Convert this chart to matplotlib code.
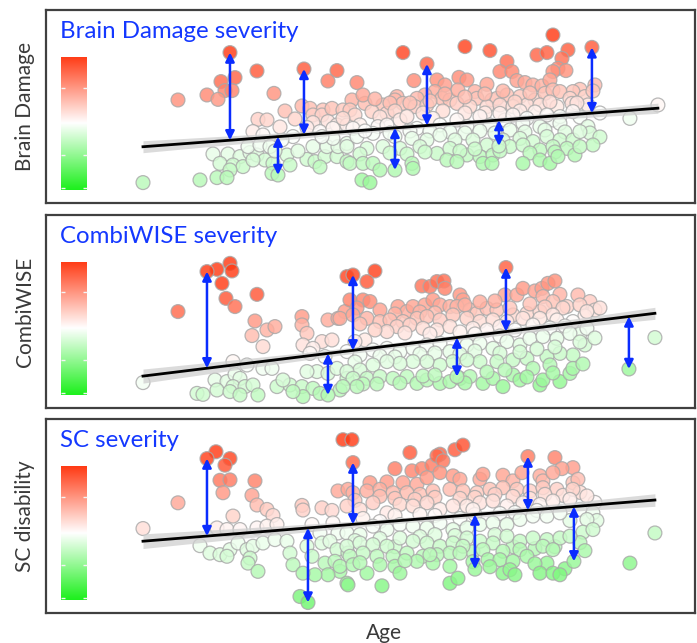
import numpy as np
import matplotlib.pyplot as plt
from matplotlib.colors import LinearSegmentedColormap, TwoSlopeNorm

plt.rcParams['font.family'] = ['Lato', 'DejaVu Sans']

# (age, score) per patient; *_marked are the patients picked out with arrows
brain_points = [
    (29.2, 6.60), (37.2, 6.62), (36.3, 6.10), (25.6, 6.07), (27.0, 6.27), (26.0, 5.62), (26.7, 5.62),
    (24.2, 5.40), (25.3, 5.18), (21.3, 5.15), (30.9, 5.48), (33.7, 4.85), (34.5, 4.73), (35.8, 4.65),
    (34.8, 4.40), (35.7, 4.40), (36.7, 4.73), (37.8, 4.65), (29.3, 4.18), (30.2, 4.15), (34.8, 4.02),
    (36.3, 4.07), (37.2, 3.90), (38.2, 3.90), (34.2, 3.77), (35.5, 3.57), (36.8, 3.73), (28.8, 3.57),
    (29.8, 3.40), (32.8, 3.32), (31.7, 3.15), (24.8, 2.45), (26.3, 2.45), (27.5, 2.32), (28.5, 2.52),
    (29.2, 2.40), (30.0, 2.15), (32.2, 2.40), (34.2, 2.18), (35.0, 2.07), (36.0, 2.32), (37.2, 2.32),
    (38.2, 2.07), (25.5, 1.98), (26.8, 1.90), (27.8, 1.82), (26.5, 1.65), (30.8, 1.98), (30.7, 1.48),
    (23.5, 1.15), (25.2, 1.27), (26.2, 1.27), (17.8, 1.02), (34.8, 2.82), (36.2, 2.82), (37.3, 2.82),
    (36.8, 3.23), (38.2, 2.98), (35.7, 3.32), (28.3, 2.82), (29.5, 2.90), (30.5, 2.82), (28.8, 2.15),
    (32.0, 4.60), (33.0, 4.20), (31.5, 3.80), (33.3, 2.60), (32.5, 1.90), (35.5, 1.80), (31.0, 2.60),
    (58.8, 8.40), (50.0, 7.82), (52.5, 7.62), (43.8, 7.52), (57.2, 7.40), (58.2, 7.52), (60.3, 7.65),
    (59.7, 7.23), (54.2, 7.07), (53.5, 6.57), (54.7, 6.57), (59.3, 6.73), (60.1, 6.62), (58.8, 6.57),
    (39.2, 6.02), (44.9, 6.12), (47.2, 6.15), (48.0, 5.90), (49.4, 6.28), (50.2, 6.15), (52.2, 5.93),
    (55.2, 6.12), (56.0, 6.02), (56.8, 5.90), (57.7, 5.85), (58.5, 6.15), (63.0, 5.90), (61.5, 5.68),
    (60.8, 5.57), (47.0, 5.57), (46.0, 5.40), (43.2, 5.32), (43.0, 5.15), (43.8, 4.98), (45.2, 5.23),
    (47.7, 5.23), (48.5, 5.15), (49.3, 5.65), (51.0, 5.57), (51.2, 5.23), (52.7, 5.15), (53.2, 5.23),
    (54.2, 5.40), (55.5, 5.32), (57.0, 5.15), (58.0, 5.48), (58.8, 5.65), (59.5, 5.57), (60.5, 5.23),
    (62.0, 5.32), (38.7, 5.15), (40.0, 4.98), (41.8, 4.90), (40.7, 4.57), (42.2, 4.48), (38.5, 4.65),
    (45.0, 4.82), (46.2, 4.90), (49.2, 4.98), (50.5, 4.82), (52.2, 4.82), (53.5, 4.90), (54.8, 4.82),
    (56.2, 4.90), (57.5, 4.90), (59.2, 4.82), (60.7, 4.98), (62.3, 4.90), (69.3, 4.90),
    (39.8, 5.40), (41.0, 5.20), (42.5, 5.00), (44.5, 5.00), (46.5, 5.10), (48.0, 5.45), (50.0, 5.30),
    (52.0, 5.45), (53.8, 5.60), (55.0, 5.05), (56.5, 5.50), (58.5, 5.05), (61.2, 5.00), (62.8, 5.60),
    (39.0, 4.40), (41.5, 4.30), (43.0, 4.60), (45.8, 4.50), (47.8, 4.60), (50.0, 4.50), (52.0, 4.50),
    (54.0, 4.15), (55.5, 4.60), (57.0, 4.55), (58.8, 4.15), (61.5, 4.30), (63.5, 4.50),
    (37.8, 4.23), (39.5, 3.90), (41.3, 3.82), (43.5, 4.15), (44.2, 4.32), (46.8, 4.23), (49.2, 4.15),
    (51.5, 4.32), (53.5, 4.48), (54.8, 4.40), (56.2, 4.23), (58.2, 4.40), (59.5, 4.32), (60.8, 4.57),
    (66.5, 4.23), (38.8, 3.73), (42.2, 3.90), (45.2, 3.73), (47.5, 3.90), (50.2, 3.82), (52.5, 3.90),
    (55.8, 3.98), (57.5, 3.82), (59.5, 3.98), (62.3, 3.82), (39.2, 3.32), (40.8, 3.48), (43.0, 3.32),
    (40.0, 3.60), (42.5, 3.50), (44.5, 3.60), (46.5, 3.60), (48.5, 3.55), (50.0, 3.50), (51.5, 3.60),
    (53.0, 3.50), (54.5, 3.65), (56.0, 3.55), (58.0, 3.65), (60.0, 3.55), (62.5, 3.50), (63.5, 3.30),
    (44.7, 3.23), (46.2, 3.15), (47.5, 3.40), (49.0, 3.15), (50.8, 3.15), (52.2, 2.90), (53.8, 3.15),
    (55.5, 3.23), (56.8, 3.07), (58.2, 3.32), (59.5, 3.15), (60.8, 3.15), (61.5, 3.57), (38.2, 2.82),
    (40.2, 2.73), (41.8, 2.82), (43.5, 2.73), (45.5, 2.82), (47.2, 2.48), (48.5, 2.73), (50.2, 2.40),
    (51.5, 2.32), (52.8, 2.40), (54.5, 2.82), (55.8, 2.90), (57.5, 2.65), (58.8, 2.82), (60.2, 2.73),
    (39.5, 2.45), (42.5, 2.50), (44.2, 2.45), (46.0, 2.55), (49.5, 2.60), (51.0, 2.70), (53.5, 2.60),
    (56.5, 2.50), (59.0, 2.55), (61.0, 2.40), (62.8, 2.90),
    (61.5, 2.82), (38.5, 1.98), (39.8, 1.98), (40.8, 1.98), (41.5, 1.65), (44.7, 1.98), (44.8, 1.73),
    (48.2, 2.15), (49.2, 2.07), (51.8, 1.98), (52.7, 1.98), (55.8, 1.98), (57.5, 2.15), (58.5, 1.98),
    (59.3, 2.32), (39.7, 1.15), (40.5, 1.02),
]
brain_marked = [(26.5, 7.52), (31.3, 1.40), (33.9, 6.70), (43.0, 1.65), (46.2, 6.95), (53.4, 2.85), (62.7, 7.78)]
brain_trend = (2.147, 0.0374)  # intercept, slope per year

combi_points = [
    (25.2, 6.93), (26.5, 7.23), (26.7, 6.85), (25.7, 6.23), (26.1, 5.48), (27.0, 5.07), (21.3, 4.82),
    (29.2, 5.68), (29.0, 4.35), (30.2, 3.90), (31.0, 4.07), (28.7, 3.62), (29.8, 3.07), (33.7, 4.57),
    (33.7, 4.15), (34.2, 3.73), (36.3, 4.40), (37.3, 4.48), (38.0, 4.82), (38.2, 6.57), (35.7, 3.32),
    (36.7, 3.40), (33.8, 3.15), (34.8, 2.98), (17.8, 1.27), (26.8, 2.32), (28.2, 2.15), (29.8, 1.98),
    (30.7, 1.98), (34.5, 2.73), (36.0, 2.57), (23.2, 0.73), (23.8, 0.68), (25.0, 1.40), (26.2, 1.32),
    (27.0, 1.68), (27.5, 1.48), (26.8, 1.07), (28.0, 1.07), (28.8, 1.15), (25.2, 0.90), (26.5, 0.82),
    (27.5, 0.65), (29.3, 0.65), (31.2, 1.07), (32.5, 1.15), (33.7, 1.07), (34.8, 0.98), (33.8, 0.57),
    (37.5, 0.90), (38.2, 1.48), (35.2, 1.82), (36.3, 1.73), (37.2, 1.98), (31.8, 1.40), (32.8, 0.82),
    (35.5, 0.73), (34.2, 1.82),
    (41.0, 6.85), (40.2, 6.32), (45.7, 6.10), (46.5, 6.07), (47.2, 6.32), (47.9, 6.35), (48.0, 5.98),
    (38.5, 5.40), (39.8, 5.40), (40.5, 5.32), (43.3, 5.07), (44.2, 4.82), (44.8, 5.07), (46.0, 5.15),
    (46.8, 5.40), (47.5, 5.15), (48.5, 5.07), (49.5, 5.65), (49.8, 5.40), (49.2, 5.07), (50.5, 4.90),
    (51.2, 4.73), (52.2, 4.98), (53.2, 4.90), (54.0, 5.65), (55.2, 5.65), (55.8, 5.98), (57.0, 5.85),
    (57.7, 5.98), (58.3, 6.23), (59.0, 6.35), (59.5, 5.68), (57.8, 5.57), (58.8, 5.32), (60.2, 5.07),
    (61.3, 5.65), (62.5, 5.32), (63.0, 4.90), (61.5, 5.15), (54.8, 4.65), (56.2, 4.73), (57.5, 4.82),
    (39.2, 5.00), (41.5, 4.90), (43.0, 4.70), (45.5, 4.80), (47.0, 4.75), (50.0, 5.15), (51.5, 5.30),
    (53.0, 5.35), (54.5, 5.00), (56.5, 5.20), (58.0, 5.05), (59.8, 5.00), (62.0, 4.60), (63.5, 5.00),
    (58.8, 4.65), (37.5, 4.48), (38.8, 4.65), (40.2, 4.48), (41.5, 4.32), (42.5, 4.40), (43.8, 4.32),
    (45.2, 4.48), (46.2, 4.57), (47.5, 4.40), (48.8, 4.65), (50.2, 4.48), (51.5, 4.32), (52.8, 4.40),
    (54.2, 4.32), (55.8, 4.48), (57.5, 4.48), (59.2, 4.40), (60.8, 4.32), (62.2, 4.82), (43.2, 4.07),
    (44.5, 4.15), (45.8, 3.98), (47.2, 3.90), (48.5, 4.07), (40.0, 3.40), (39.0, 3.32), (42.2, 3.82),
    (50.8, 3.98), (52.2, 3.90), (53.5, 4.07),
    (39.5, 4.20), (41.0, 3.90), (44.0, 3.75), (46.5, 3.70), (49.5, 3.80), (51.0, 3.70), (53.5, 3.60),
    (55.0, 3.90), (56.8, 4.15), (58.5, 4.00), (60.0, 4.10), (61.5, 3.70),
    (38.2, 2.82), (39.5, 2.65), (40.8, 2.90), (42.2, 2.98),
    (43.5, 2.82), (44.8, 2.98), (46.2, 3.15), (47.5, 3.23), (48.5, 2.82), (50.2, 3.15), (51.5, 3.23),
    (52.8, 2.98), (54.2, 3.32), (55.5, 3.15), (56.5, 3.48), (57.8, 3.57), (59.2, 3.48), (60.5, 3.73),
    (62.2, 3.98), (62.0, 3.15), (60.8, 2.65), (59.5, 2.73), (58.2, 2.57), (56.2, 2.48), (54.8, 2.40),
    (39.0, 2.30), (41.5, 2.60), (43.0, 2.55), (45.5, 2.70), (47.0, 2.75), (49.5, 2.70), (51.0, 2.85),
    (53.5, 2.75), (55.5, 2.80), (57.2, 2.95), (59.0, 3.05), (61.5, 3.30), (63.0, 3.50),
    (53.2, 2.32), (51.5, 2.32), (50.2, 2.40), (48.8, 2.32), (47.5, 2.15), (46.2, 2.32), (44.8, 2.32),
    (43.5, 2.23), (42.2, 2.32), (40.8, 2.15), (39.5, 1.90), (38.2, 1.82), (38.8, 1.48), (40.2, 1.48),
    (41.5, 1.57), (42.8, 1.48), (44.2, 1.57), (45.2, 1.23), (46.2, 1.40), (47.5, 1.23), (48.5, 1.32),
    (49.5, 1.48), (50.5, 1.57), (51.8, 1.23), (52.8, 1.48), (53.8, 1.07), (54.8, 1.65), (55.5, 1.40),
    (57.5, 1.15), (57.8, 1.40), (59.5, 1.32), (60.5, 1.73), (60.8, 1.98), (56.8, 1.98), (58.5, 2.15),
    (39.8, 1.20), (41.2, 1.20), (43.5, 1.25), (45.8, 1.60), (47.0, 1.65), (50.0, 1.25), (52.2, 1.80),
    (54.0, 1.90), (56.2, 1.55), (58.8, 1.75), (61.8, 2.20),
    (69.0, 3.52), (39.2, 1.07), (37.8, 1.07),
]
combi_marked = [(24.2, 6.82), (36.3, 0.65), (38.8, 6.65), (49.2, 1.57), (54.1, 7.02), (66.4, 1.95)]
combi_trend = (0.503, 0.0613)

sc_points = [
    (25.1, 8.02), (26.5, 7.68), (26.0, 7.35), (25.5, 6.60), (26.5, 6.62), (25.8, 5.98), (29.0, 6.57),
    (28.7, 5.85), (29.2, 5.37), (30.2, 5.15), (21.3, 5.48), (30.8, 4.85), (26.8, 4.82), (33.7, 5.35),
    (33.8, 5.12), (35.7, 5.23), (36.7, 5.10), (37.3, 6.07), (38.3, 6.15), (17.8, 4.20), (25.2, 4.23),
    (26.2, 4.15), (27.5, 4.15), (29.2, 4.23), (30.2, 4.32), (31.2, 4.40), (34.7, 4.40), (36.8, 4.48),
    (37.3, 3.98), (35.5, 3.98), (23.5, 3.35), (24.5, 2.98), (25.5, 2.90), (26.5, 3.15), (26.2, 2.82),
    (27.3, 3.48), (28.2, 3.15), (28.8, 3.32), (29.8, 3.48), (28.5, 2.73), (28.3, 2.48), (29.3, 2.07),
    (31.0, 3.65), (32.2, 3.57), (32.5, 2.98), (32.8, 2.40), (34.2, 3.32), (34.7, 2.82), (35.7, 3.48),
    (36.5, 3.57), (37.2, 3.15), (36.0, 2.48), (37.0, 2.57), (37.5, 2.07), (36.3, 1.90), (35.0, 1.90),
    (33.8, 1.98), (33.5, 0.82), (38.2, 1.48), (38.3, 2.98),
    (37.8, 8.62), (38.7, 8.62), (44.5, 7.98), (47.5, 7.90), (49.0, 8.12), (49.8, 8.35), (43.0, 7.18),
    (44.7, 7.07), (45.7, 7.18), (46.7, 7.35), (47.2, 7.82), (47.8, 7.57), (59.0, 7.73), (60.8, 7.23),
    (59.7, 7.18), (40.5, 6.48), (42.2, 6.52), (43.8, 6.48), (45.2, 6.40), (46.2, 6.73), (47.5, 6.98),
    (48.8, 6.82), (49.5, 6.65), (51.5, 6.65), (51.8, 6.90), (53.8, 6.85), (54.8, 6.57), (55.7, 6.98),
    (57.5, 6.82), (57.8, 6.57), (58.8, 6.98), (60.8, 6.48), (61.3, 6.65), (38.8, 5.98), (40.2, 6.07),
    (41.5, 6.15), (42.8, 5.98), (44.2, 5.98), (45.5, 5.90), (46.8, 6.07), (48.5, 6.15), (49.8, 6.07),
    (51.2, 5.98), (52.5, 6.15), (53.8, 6.23), (55.2, 6.15), (56.5, 6.07), (57.8, 6.23), (59.2, 6.15),
    (39.0, 5.60), (41.5, 5.80), (43.0, 5.70), (45.0, 5.65), (47.0, 5.75), (49.5, 5.70), (51.0, 5.75),
    (53.0, 5.90), (54.8, 5.80), (56.5, 5.70), (58.0, 5.90), (59.8, 5.85), (61.5, 6.00), (63.0, 5.50),
    (60.8, 6.15), (38.2, 5.32), (39.5, 5.15), (40.8, 5.48), (42.2, 4.98), (43.5, 5.40), (44.8, 5.32),
    (46.2, 5.48), (47.5, 5.15), (48.8, 5.32), (50.2, 5.32), (51.5, 5.48), (52.8, 5.57), (54.2, 5.32),
    (55.8, 5.48), (57.5, 5.40), (58.8, 5.57), (60.5, 5.65), (62.2, 5.82), (61.5, 5.15), (62.8, 4.98),
    (39.8, 4.70), (41.5, 4.55), (43.0, 4.85), (45.5, 4.90), (47.0, 4.85), (49.5, 4.70), (51.0, 4.90),
    (53.5, 4.95), (55.0, 5.00), (57.2, 5.10), (60.5, 4.60), (63.2, 4.60),
    (50.8, 5.15), (38.2, 3.98), (39.5, 3.90), (40.8, 4.32), (42.2, 4.15), (43.5, 4.40), (44.8, 4.32),
    (46.2, 4.23), (47.5, 4.48), (48.8, 4.15), (50.2, 4.23), (51.5, 4.40), (52.8, 4.48), (54.2, 4.40),
    (55.5, 4.65), (56.8, 4.82), (58.2, 4.82), (59.5, 4.98), (62.2, 4.65), (61.8, 4.02), (62.8, 4.15),
    (39.0, 3.60), (41.5, 3.70), (43.0, 3.30), (45.5, 3.80), (47.0, 3.90), (49.0, 3.85), (50.8, 3.05),
    (53.0, 3.90), (54.8, 3.30), (57.0, 3.20), (59.0, 3.30), (61.5, 3.50),
    (38.2, 3.32), (39.5, 3.48), (40.8, 3.40), (42.2, 3.32), (43.5, 3.73), (44.8, 3.57), (46.2, 3.48),
    (47.5, 3.32), (48.8, 3.48), (50.2, 3.73), (51.5, 3.57), (52.8, 3.48), (54.2, 3.82), (55.5, 3.57),
    (56.8, 3.73), (58.2, 3.65), (59.5, 3.73), (60.5, 3.82), (57.8, 3.32), (58.8, 3.15), (55.5, 3.15),
    (53.8, 3.07), (51.8, 3.15), (49.8, 3.32), (48.5, 2.98), (47.2, 2.90), (45.8, 2.82), (44.2, 2.98),
    (42.8, 2.82), (41.2, 2.82), (39.8, 2.98), (38.5, 2.82), (37.5, 2.32), (38.8, 2.40), (40.2, 1.98),
    (43.0, 2.32), (43.5, 1.98), (45.2, 2.57), (46.8, 2.48), (48.5, 2.32), (49.5, 2.98), (52.3, 2.65),
    (53.5, 2.65), (54.8, 2.57), (56.2, 2.82), (58.2, 2.48), (53.8, 1.98), (54.5, 2.15), (55.0, 1.90),
    (39.5, 2.50), (41.5, 2.40), (44.0, 2.60), (46.5, 2.90), (50.8, 2.55), (52.5, 2.30), (57.0, 2.45),
    (60.0, 2.20), (62.0, 3.10),
    (57.5, 1.98), (58.8, 1.98), (59.5, 1.90), (66.5, 2.48), (69.0, 3.98), (38.3, 1.40), (41.7, 1.35),
    (48.5, 1.48), (49.3, 1.73),
]
sc_marked = [(24.2, 7.68), (34.3, 0.52), (38.8, 7.48), (51.0, 2.18), (56.3, 7.78), (60.9, 2.57)]
sc_trend = (2.858, 0.040)

titles = ['Brain Damage severity', 'CombiWISE severity', 'SC severity']
ylabels = ['Brain Damage', 'CombiWISE', 'SC disability']

severity_cmap = LinearSegmentedColormap.from_list('severity', ['#1cf01c', '#ffffff', '#ff3a14'])
# residuals above the line saturate sooner than those below it
severity_norm = TwoSlopeNorm(vcenter=0, vmin=-6, vmax=4)
arrow_blue = '#0a2cff'


def draw_panel(ax, points, marked, trend, title):
    pts = np.array(points + marked)
    age, score = pts[:, 0], pts[:, 1]
    b0, b1 = trend
    resid = score - (b0 + b1 * age)
    ax.scatter(age, score, c=np.clip(resid, -6, 4), cmap=severity_cmap, norm=severity_norm,
               s=100, alpha=0.82, edgecolors='#a8a8a8', linewidths=0.9, zorder=2)

    # fitted line with a standard-error band
    grid = np.linspace(age.min(), age.max(), 100)
    fit = b0 + b1 * grid
    s = np.sqrt(np.sum(resid ** 2) / (len(age) - 2))
    sxx = np.sum((age - age.mean()) ** 2)
    half = 1.2 * s * np.sqrt(1 / len(age) + (grid - age.mean()) ** 2 / sxx)
    ax.fill_between(grid, fit - half, fit + half, color='#cfcfcf', alpha=0.75, lw=0, zorder=3)
    ax.plot(grid, fit, color='black', lw=2, zorder=4)

    for a, sc in marked:
        ax.annotate('', xy=(a, sc), xytext=(a, b0 + b1 * a),
                    arrowprops=dict(arrowstyle='<|-|>', color=arrow_blue, lw=1.8,
                                    mutation_scale=13, shrinkA=0, shrinkB=0), zorder=5)

    ax.text(0.0215, 0.855, title, transform=ax.transAxes, color='#1438ff',
            fontsize=17.3, va='baseline', ha='left')

    # colour key on the left
    cax = ax.inset_axes([0.023, 0.067, 0.040, 0.69])
    cax.imshow(np.linspace(-1, 1, 256)[:, None], cmap=severity_cmap, aspect='auto',
               origin='lower', extent=[0, 1, 0, 1])
    cax.set_xticks([])
    cax.set_yticks([0.015, 0.26, 0.77])
    cax.tick_params(axis='y', direction='in', length=3, color='#f4f4f4', width=1,
                    left=True, right=True, labelleft=False)
    for sp in cax.spines.values():
        sp.set_visible(False)

    ax.set_xlim(8.1, 73.0)
    ax.set_ylim(0, 9.65)
    ax.set_xticks([])
    ax.set_yticks([])
    for sp in ax.spines.values():
        sp.set_color('#404040')
        sp.set_linewidth(1.6)


fig = plt.figure(figsize=(6.97, 6.43), dpi=100)
boxes = [[0.066, 0.6843, 0.931, 0.3002],
         [0.066, 0.3655, 0.931, 0.3002],
         [0.066, 0.0467, 0.931, 0.3017]]
panels = [(brain_points, brain_marked, brain_trend),
          (combi_points, combi_marked, combi_trend),
          (sc_points, sc_marked, sc_trend)]

for box, (pts, marked, trend), title, ylab in zip(boxes, panels, titles, ylabels):
    ax = fig.add_axes(box)
    draw_panel(ax, pts, marked, trend, title)
    fig.text(0.036, box[1] + box[3] / 2, ylab, rotation=90, ha='center', va='center',
             fontsize=15, color='#3a3a3a')

fig.text(0.551, 0.016, 'Age', ha='center', va='center', fontsize=15, color='#3a3a3a')

fig.savefig('out.png', dpi=100)
